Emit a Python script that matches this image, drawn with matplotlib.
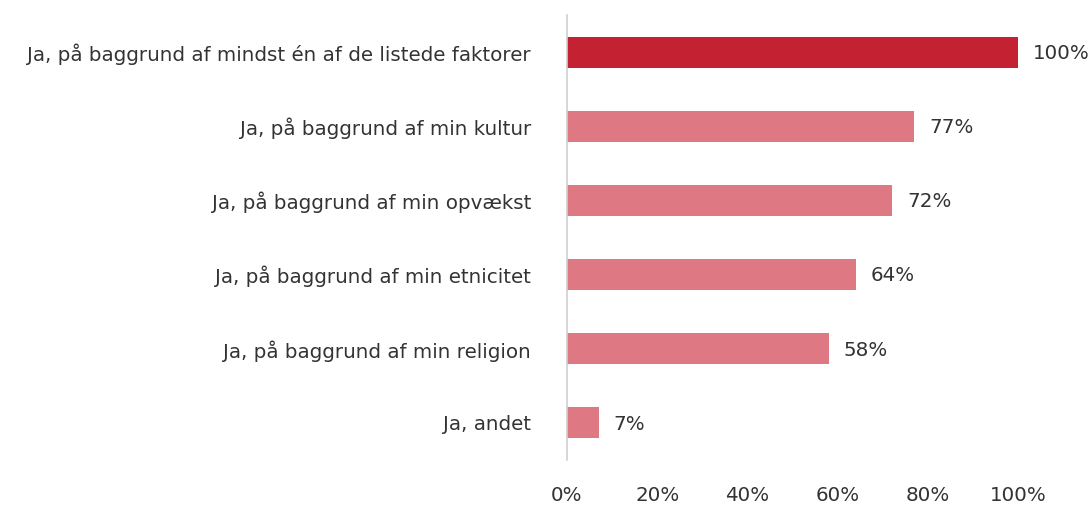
import matplotlib.pyplot as plt
from matplotlib.ticker import FuncFormatter

categories = [
    "Ja, på baggrund af mindst én af de listede faktorer",
    "Ja, på baggrund af min kultur",
    "Ja, på baggrund af min opvækst",
    "Ja, på baggrund af min etnicitet",
    "Ja, på baggrund af min religion",
    "Ja, andet",
]
values = [100, 77, 72, 64, 58, 7]
xticks = [0, 20, 40, 60, 80, 100]

dark_red = "#C42133"
light_red = "#DE7882"
text_col = "#333333"

plt.rcParams["font.family"] = ["DejaVu Sans"]
fsize = 14.3

fig = plt.figure(figsize=(10.91, 5.05), dpi=100)
ax = fig.add_axes([567 / 1091, 1 - 460 / 505, 451 / 1091, 445 / 505])

ypos = list(range(len(categories)))
colors = [dark_red] + [light_red] * (len(values) - 1)
ax.barh(ypos, values, height=0.42, color=colors)

for y, v in zip(ypos, values):
    ax.annotate(f"{v}%", (v, y), xytext=(11, -1), textcoords="offset points",
                va="center", ha="left", fontsize=fsize, color=text_col)

ax.set_ylim(len(categories) - 0.5, -0.5)
ax.set_xlim(0, 100)
ax.set_yticks(ypos)
ax.set_yticklabels(categories, fontsize=fsize, color=text_col)
ax.set_xticks(xticks)
ax.xaxis.set_major_formatter(FuncFormatter(lambda x, p: f"{x:.0f}%"))
ax.tick_params(axis="x", length=0, pad=19, labelsize=fsize, labelcolor=text_col)
ax.tick_params(axis="y", length=0, pad=26)

for s in ["top", "right", "bottom"]:
    ax.spines[s].set_visible(False)
ax.spines["left"].set_color("#D0D0D0")
ax.spines["left"].set_linewidth(1.2)

plt.savefig("out.png", dpi=100)
